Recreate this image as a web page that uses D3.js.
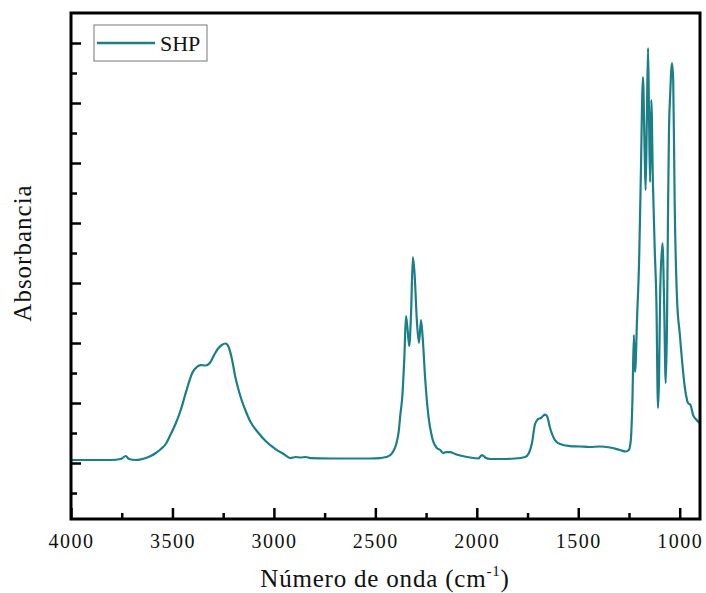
<!DOCTYPE html>
<html>
<head>
<meta charset="utf-8">
<script src="https://d3js.org/d3.v7.min.js"></script>
<style>
  body { margin: 0; background: #fff; }
  text { font-family: "Liberation Serif", "DejaVu Serif", serif; fill: #111; }
</style>
</head>
<body>
<svg id="chart" width="706" height="593"></svg>
<script>
// FTIR spectrum (cm-1 vs absorbance, arbitrary units)
const wavenumber = [3995,3902,3803,3754,3730,3715,3680,3656,3631,3607,3582,3557,3533,3508,3483,3459,3439,3420,3400,3380,
  3361,3336,3316,3297,3277,3257,3238,3223,3208,3189,3164,3139,3115,3080,3041,2992,2952,2918,2893,2869,
  2844,2820,2721,2623,2525,2475,2446,2426,2411,2397,2384,2377,2367,2357,2349,2341,2333,2324,2315,2307,
  2295,2285,2275,2267,2254,2238,2221,2197,2180,2166,2151,2131,2107,2082,2033,1993,1974,1959,1934,1885,
  1811,1762,1743,1728,1713,1698,1684,1674,1664,1654,1639,1615,1590,1541,1492,1443,1394,1344,1295,1266,
  1251,1241,1233,1226,1220,1210,1200,1192,1181,1173,1168,1162,1156,1151,1146,1140,1132,1123,1115,1107,
  1102,1096,1085,1077,1069,1063,1057,1053,1047,1038,1032,1025,1013,1000,975,959,947,934,921,901];
const absorbance = [0.005,0.005,0.005,0.0067,0.0117,0.0067,0.005,0.006,0.0083,0.0117,0.0167,0.0233,0.0317,0.0483,0.0667,0.0883,0.1117,0.1333,0.1517,0.16,
  0.1633,0.1625,0.1667,0.1783,0.19,0.1967,0.1992,0.1933,0.175,0.1417,0.11,0.0867,0.0683,0.0517,0.0367,0.0233,0.015,0.0083,0.01,0.0092,
  0.01,0.0083,0.0075,0.0075,0.0075,0.0083,0.01,0.0133,0.02,0.0317,0.055,0.08,0.1117,0.1767,0.245,0.2217,0.195,0.25,0.3433,0.3167,
  0.235,0.2,0.2383,0.21,0.1383,0.0767,0.0433,0.025,0.0217,0.0167,0.0183,0.0183,0.015,0.0125,0.0092,0.0075,0.0133,0.0092,0.0067,0.0067,
  0.0075,0.01,0.0167,0.0333,0.065,0.0733,0.075,0.0783,0.0808,0.0783,0.0583,0.0383,0.0317,0.0283,0.0275,0.0267,0.0275,0.0258,0.0217,0.0192,
  0.0217,0.0383,0.105,0.2133,0.1517,0.2433,0.3383,0.4717,0.6433,0.5217,0.455,0.5717,0.6917,0.5717,0.4683,0.605,0.4667,0.355,0.2717,0.0917,
  0.1383,0.2883,0.3667,0.2717,0.1333,0.2217,0.4383,0.55,0.6133,0.6667,0.6383,0.4383,0.2717,0.2167,0.1267,0.1,0.0967,0.08,0.0733,0.0667];
const xTicks = [4000, 3500, 3000, 2500, 2000, 1500, 1000];
const xMinor = [3750, 3250, 2750, 2250, 1750, 1250];
const yMajor = [0, 0.1, 0.2, 0.3, 0.4, 0.5, 0.6, 0.7];
const yMinor = [-0.05, 0.05, 0.15, 0.25, 0.35, 0.45, 0.55, 0.65];
const seriesName = "SHP";

const svg = d3.select("#chart");
const mLeft = 71, mRight = 700, mTop = 13, mBottom = 519;
const color = "#1b7f87";
const serif = '"Liberation Serif", "DejaVu Serif", serif';

const x = d3.scaleLinear().domain([4000, 900]).range([mLeft, mRight]);
const y = d3.scaleLinear().domain([-0.0933, 0.75]).range([mBottom, mTop]);

const data = wavenumber.map((w, i) => ({ w: w, a: absorbance[i] }));

// curve
svg.append("path")
  .datum(data)
  .attr("fill", "none")
  .attr("stroke", color)
  .attr("stroke-width", 2.2)
  .attr("stroke-linejoin", "round")
  .attr("d", d3.line().x(d => x(d.w)).y(d => y(d.a)).curve(d3.curveMonotoneX));

// bottom axis, ticks pointing inward
const xAxis = svg.append("g").attr("transform", `translate(0,${mBottom})`)
  .call(d3.axisBottom(x).tickValues(xTicks).tickSize(-11).tickPadding(15).tickFormat(d3.format("d")));
svg.append("g").attr("transform", `translate(0,${mBottom})`)
  .call(d3.axisBottom(x).tickValues(xMinor).tickSize(-6).tickFormat(""));

// left axis, no labels
svg.append("g").attr("transform", `translate(${mLeft},0)`)
  .call(d3.axisLeft(y).tickValues(yMajor).tickSize(-10).tickFormat(""));
svg.append("g").attr("transform", `translate(${mLeft},0)`)
  .call(d3.axisLeft(y).tickValues(yMinor).tickSize(-6).tickFormat(""));

svg.selectAll(".domain").remove();
svg.selectAll(".tick line").attr("stroke", "#000").attr("stroke-width", 2.5);
xAxis.selectAll(".tick text")
  .style("font-family", serif)
  .style("font-size", "20px")
  .style("letter-spacing", "1.5px")
  .style("fill", "#111");

// frame
svg.append("rect")
  .attr("x", mLeft).attr("y", mTop)
  .attr("width", mRight - mLeft).attr("height", mBottom - mTop)
  .attr("fill", "none").attr("stroke", "#000").attr("stroke-width", 3);

// axis titles
const xt = svg.append("text")
  .attr("x", 385).attr("y", 587)
  .attr("text-anchor", "middle")
  .style("font-size", "25px")
  .style("letter-spacing", "0.8px");
xt.append("tspan").text("Número de onda (cm");
xt.append("tspan").style("font-size", "15px").attr("dy", -11).text("-1");
xt.append("tspan").attr("dy", 11).text(")");

svg.append("text")
  .attr("transform", "translate(31,253) rotate(-90)")
  .attr("text-anchor", "middle")
  .style("font-size", "25px")
  .style("letter-spacing", "1px")
  .text("Absorbancia");

// legend
svg.append("rect")
  .attr("x", 94).attr("y", 25).attr("width", 113).attr("height", 36)
  .attr("fill", "#fff").attr("stroke", "#777").attr("stroke-width", 1);
svg.append("line")
  .attr("x1", 97).attr("x2", 155).attr("y1", 43).attr("y2", 43)
  .attr("stroke", color).attr("stroke-width", 2.5);
svg.append("text")
  .attr("x", 160).attr("y", 51)
  .style("font-size", "22px")
  .text(seriesName);
</script>
</body>
</html>
